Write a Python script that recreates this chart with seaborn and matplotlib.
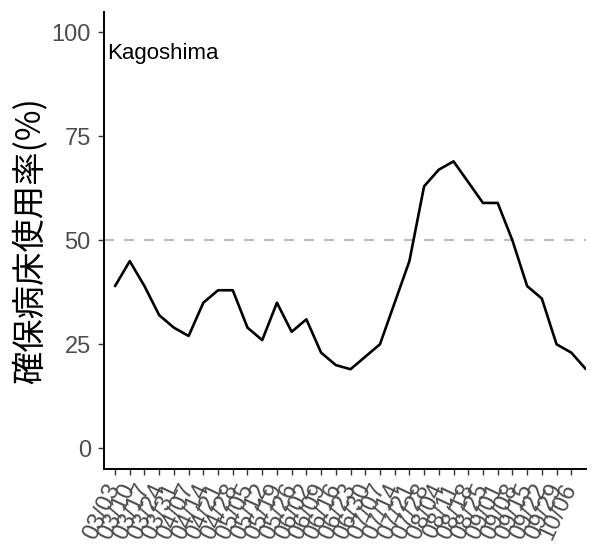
import numpy as np
import pandas as pd
import seaborn as sns
import matplotlib
matplotlib.use('Agg')
import matplotlib.pyplot as plt

# weekly values (33 weeks, last one has no tick label)
usage = [39, 45, 39, 32, 29, 27, 35, 38, 38, 29, 26, 35, 28, 31, 23, 20, 19,
         22, 25, 35, 45, 63, 67, 69, 64, 59, 59, 50, 39, 36, 25, 23, 19]
week_labels = ['03/03', '03/10', '03/17', '03/24', '03/31', '04/07', '04/14',
               '04/21', '04/28', '05/05', '05/12', '05/19', '05/26', '06/02',
               '06/09', '06/16', '06/23', '06/30', '07/07', '07/14', '07/21',
               '07/28', '08/04', '08/11', '08/18', '08/25', '09/01', '09/08',
               '09/15', '09/22', '09/29', '10/06']
y_ticks = [0, 25, 50, 75, 100]
threshold = 50
pref = 'Kagoshima'

df = pd.DataFrame({'week': np.arange(len(usage)), 'usage': usage})

sns.set_style('ticks')
plt.rcParams['font.family'] = ['Liberation Sans', 'DejaVu Sans']

fig = plt.figure(figsize=(5.96, 5.49), dpi=100)
ax = fig.add_axes([0.1745, 0.1457, 0.8087, 0.833])

ax.axhline(threshold, color='#BEBEBE', lw=1.6, dashes=(4.5, 4.5))
sns.lineplot(data=df, x='week', y='usage', color='black', lw=1.9, ax=ax)

ax.set_xlim(-0.75, len(usage) - 1)
ax.set_ylim(-5, 105)
ax.set_yticks(y_ticks)
ax.set_xticks(np.arange(len(week_labels)))
ax.set_xticklabels(week_labels, rotation=65, ha='right', va='center',
                   rotation_mode='anchor')
ax.tick_params(axis='both', colors='#333333', labelcolor='#4D4D4D',
               labelsize=17, length=4.5, width=1)
ax.tick_params(axis='y', pad=5)
ax.tick_params(axis='x', pad=7)
ax.set_xlabel('')
ax.set_ylabel('確保病床使用率(%)', fontsize=24, color='black',
              family=['Noto Sans CJK JP', 'DejaVu Sans'], labelpad=2)

ax.text(0.006, 95, pref, transform=ax.get_yaxis_transform(),
        ha='left', va='center', fontsize=16, color='black')

sns.despine(ax=ax)
for side in ['left', 'bottom']:
    ax.spines[side].set_linewidth(1.4)
    ax.spines[side].set_color('black')

fig.savefig('out.png', dpi=100)
